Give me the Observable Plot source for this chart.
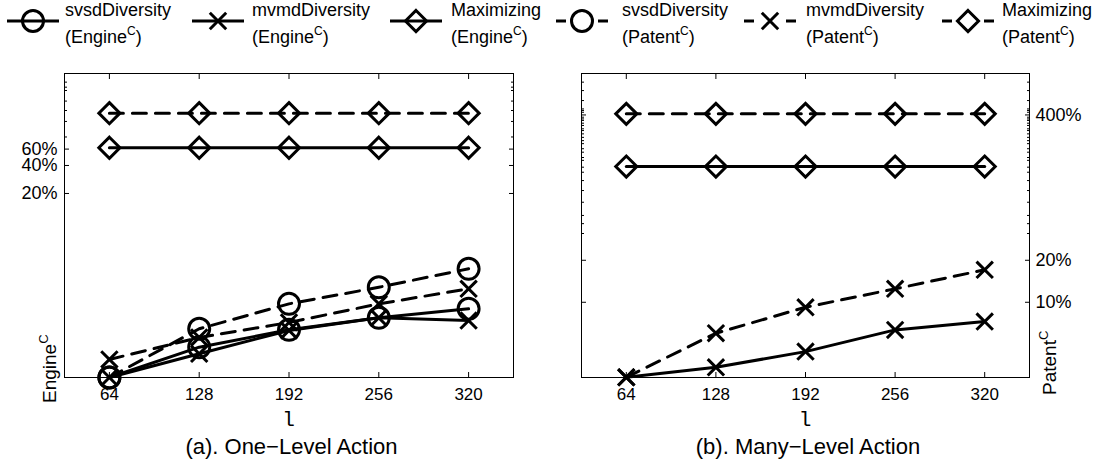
<!DOCTYPE html>
<html><head><meta charset="utf-8">
<script src="https://cdn.jsdelivr.net/npm/d3@7"></script>
<script src="https://cdn.jsdelivr.net/npm/@observablehq/plot@0.6"></script>
<style>
html,body{margin:0;padding:0;background:#fff;}
#wrap{position:relative;width:1112px;height:463px;overflow:hidden;font-family:"Liberation Sans",Arial,sans-serif;background:#fff;}
#legend{position:absolute;left:0;top:0;}
#left{position:absolute;left:0;top:48px;}
#right{position:absolute;left:556px;top:48px;}
</style></head><body>
<div id="wrap"><div id="legend"></div><div id="left"></div><div id="right"></div></div>
<script>
// ---- data ----
const lValues = [64, 128, 192, 256, 320];
const xTicks = [64, 128, 192, 256, 320];

// (a) One-Level Action
const svsdEngineA = [0.0021, 0.00445, 0.00684, 0.00921, 0.0115];
const mvmdEngineA = [0.0021, 0.00378, 0.00673, 0.00921, 0.00861];
const maxEngineA  = [0.62, 0.62, 0.62, 0.62, 0.62];
const svsdPatentA = [0.0021, 0.00702, 0.0130, 0.0196, 0.0310];
const mvmdPatentA = [0.00328, 0.00566, 0.00820, 0.0130, 0.0189];
const maxPatentA  = [1.46, 1.46, 1.46, 1.46, 1.46];

// (b) Many-Level Action
const mvmdEngineB = [0.0290, 0.0342, 0.0443, 0.0634, 0.0727];
const maxEngineB  = [0.939, 0.939, 0.939, 0.939, 0.939];
const mvmdPatentB = [0.0290, 0.0600, 0.0921, 0.1248, 0.1708];
const maxPatentB  = [2.24, 2.24, 2.24, 2.24, 2.24];

const leftYDomain = [0.0021, 3.9];
const leftYTicks = [0.2, 0.4, 0.6];
const leftYTickLabels = ["20%", "40%", "60%"];
const leftMinorTicks = [0.81, 1.19, 1.56, 1.97, 2.56, 2.78, 3.15];

const rightYDomain = [0.0289, 4.36];
const rightYTicks = [0.1, 0.2, 2.2];
const rightYTickLabels = ["10%", "20%", "400%"];
const rightMinorTicks = [0.311, 0.366, 0.419, 0.521, 0.632, 0.745, 0.855, 0.929, 1.04, 1.09, 1.19, 1.26, 1.37, 1.44, 1.52, 1.61, 1.70, 1.75, 1.85, 1.92, 2.01, 2.06, 2.12, 2.30, 2.37, 2.43, 2.79, 3.29, 3.78];

const legendNames = ["svsdDiversity", "mvmdDiversity", "Maximizing", "svsdDiversity", "mvmdDiversity", "Maximizing"];
const legendGroups = ["Engine", "Engine", "Engine", "Patent", "Patent", "Patent"];
const legendSymbols = ["circle", "times", "diamond2", "circle", "times", "diamond2"];
const legendDashed = [false, false, false, true, true, true];

const captionA = "(a). One\u2212Level Action";
const captionB = "(b). Many\u2212Level Action";
const xLabel = "l";

// ---- styles ----
const symR = {circle: 10.5, times: 7.5, diamond2: 9.5};
const DASH = "14,9";
const FONT = '"Liberation Sans", Arial, sans-serif';
const MONO = '"Liberation Mono", "DejaVu Sans Mono", monospace';

function panel({series, yDomain, majorTicks, majorLabels, minorTicks, labelSide, marginLeft, marginRight, caption, yLabel, yLabelX, yLabelDy}) {
  const W = 556, H = 415, MT = 25, MB = 86;
  const marks = [Plot.frame({stroke: "black", strokeWidth: 1})];
  for (const s of series) {
    const data = s.values.map((v, i) => ({l: lValues[i], v}));
    marks.push(Plot.line(data, {x: "l", y: "v", stroke: "black", strokeWidth: 3, strokeDasharray: s.dashed ? DASH : undefined}));
    marks.push(Plot.dot(data, {x: "l", y: "v", symbol: s.symbol, r: symR[s.symbol], stroke: "black", strokeWidth: 3, fill: "none"}));
  }
  marks.push(
    Plot.axisX({anchor: "bottom", ticks: xTicks, tickSize: 0, tickPadding: 10, fontSize: 17, label: null}),
    Plot.axisX({anchor: "bottom", ticks: xTicks, tickSize: -5, fill: "none", label: null}),
    Plot.axisX({anchor: "top", ticks: xTicks, tickSize: -5, fill: "none", label: null}),
    Plot.axisY({anchor: "left", ticks: majorTicks, tickSize: -5, fill: "none", label: null}),
    Plot.axisY({anchor: "right", ticks: majorTicks, tickSize: -5, fill: "none", label: null}),
    Plot.axisY({anchor: "left", ticks: minorTicks, tickSize: -3, fill: "none", label: null}),
    Plot.axisY({anchor: "right", ticks: minorTicks, tickSize: -3, fill: "none", label: null}),
    Plot.text(majorTicks, {
      y: d => d, text: (d, i) => majorLabels[i],
      frameAnchor: labelSide, dx: labelSide === "left" ? -7 : 6,
      textAnchor: labelSide === "left" ? "end" : "start",
      fontSize: 18, fill: "black"
    })
  );
  const node = Plot.plot({
    width: W, height: H,
    marginTop: MT, marginBottom: MB, marginLeft, marginRight,
    x: {type: "linear", domain: [32, 352]},
    y: {type: "log", domain: yDomain},
    style: {fontFamily: FONT, fontSize: "17px", color: "black", background: "transparent", overflow: "visible"},
    marks
  });
  const svg = d3.select(node);
  const cx = marginLeft + (W - marginLeft - marginRight) / 2;
  const bottom = H - MB;
  // x label (monospace) and caption
  svg.append("text").attr("x", cx).attr("y", bottom + 49)
    .attr("text-anchor", "middle").attr("font-family", MONO).attr("font-size", 21).attr("fill", "black").text(xLabel);
  svg.append("text").attr("x", cx + 3).attr("y", bottom + 77)
    .attr("text-anchor", "middle").attr("font-family", FONT).attr("font-size", 22).attr("fill", "black").text(caption);
  // rotated y label with superscript
  const t = svg.append("text")
    .attr("transform", `translate(${yLabelX},${bottom + yLabelDy}) rotate(-90)`)
    .attr("text-anchor", "start")
    .attr("font-family", FONT).attr("font-size", 19).attr("fill", "black");
  t.append("tspan").text(yLabel);
  t.append("tspan").attr("dy", -8).attr("font-size", 13).text("C");
  return node;
}

document.getElementById("left").appendChild(panel({
  series: [
    {values: svsdEngineA, symbol: "circle", dashed: false},
    {values: mvmdEngineA, symbol: "times", dashed: false},
    {values: maxEngineA, symbol: "diamond2", dashed: false},
    {values: svsdPatentA, symbol: "circle", dashed: true},
    {values: mvmdPatentA, symbol: "times", dashed: true},
    {values: maxPatentA, symbol: "diamond2", dashed: true}
  ],
  yDomain: leftYDomain, majorTicks: leftYTicks, majorLabels: leftYTickLabels, minorTicks: leftMinorTicks,
  labelSide: "left", marginLeft: 64, marginRight: 43, caption: captionA,
  yLabel: "Engine", yLabelX: 56, yLabelDy: 26
}));

document.getElementById("right").appendChild(panel({
  series: [
    {values: mvmdEngineB, symbol: "times", dashed: false},
    {values: maxEngineB, symbol: "diamond2", dashed: false},
    {values: mvmdPatentB, symbol: "times", dashed: true},
    {values: maxPatentB, symbol: "diamond2", dashed: true}
  ],
  yDomain: rightYDomain, majorTicks: rightYTicks, majorLabels: rightYTickLabels, minorTicks: rightMinorTicks,
  labelSide: "right", marginLeft: 25, marginRight: 83, caption: captionB,
  yLabel: "Patent", yLabelX: 500, yLabelDy: 18
}));

// ---- legend ----
const legendCx = [33, 218, 416, 582, 770, 968];
const legendTx = [65, 252, 451, 622, 806, 1002];
const lsvg = d3.select("#legend").append("svg").attr("width", 1112).attr("height", 50);
const symType = {circle: d3.symbolCircle, times: d3.symbolTimes, diamond2: d3.symbolDiamond2};
legendNames.forEach((name, i) => {
  const cx = legendCx[i], cy = 21;
  const ln = lsvg.append("line").attr("x1", cx - 26).attr("x2", cx + 26).attr("y1", cy).attr("y2", cy)
    .attr("stroke", "black").attr("stroke-width", 3);
  if (legendDashed[i]) ln.attr("stroke-dasharray", "10,32,10");
  const s = legendSymbols[i];
  lsvg.append("path").attr("transform", `translate(${cx},${cy})`)
    .attr("d", d3.symbol().type(symType[s]).size(Math.PI * symR[s] * symR[s])())
    .attr("fill", "none").attr("stroke", "black").attr("stroke-width", 3);
  const tx = legendTx[i];
  lsvg.append("text").attr("x", tx).attr("y", 15.5).attr("font-family", FONT).attr("font-size", 18).attr("fill", "black").text(name);
  const t2 = lsvg.append("text").attr("x", tx).attr("y", 43).attr("font-family", FONT).attr("font-size", 18).attr("fill", "black");
  t2.append("tspan").text("(" + legendGroups[i]);
  t2.append("tspan").attr("dy", -8).attr("font-size", 12).text("C");
  t2.append("tspan").attr("dy", 8).text(")");
});
</script>
</body></html>
